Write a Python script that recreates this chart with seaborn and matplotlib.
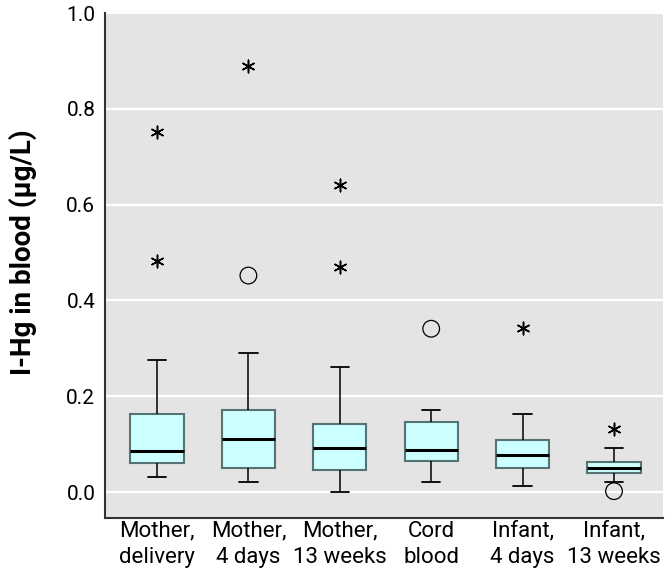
import numpy as np
import pandas as pd
import matplotlib
matplotlib.use('Agg')
import matplotlib.pyplot as plt
import seaborn as sns

# === Data ===
groups = ['Mother,\ndelivery', 'Mother,\n4 days', 'Mother,\n13 weeks',
          'Cord\nblood', 'Infant,\n4 days', 'Infant,\n13 weeks']
whisker_low = [0.032, 0.022, 0.001, 0.021, 0.013, 0.021]
q1 = [0.060, 0.050, 0.046, 0.065, 0.051, 0.039]
median = [0.086, 0.111, 0.092, 0.087, 0.078, 0.051]
q3 = [0.164, 0.172, 0.143, 0.147, 0.108, 0.062]
whisker_high = [0.275, 0.290, 0.262, 0.172, 0.163, 0.092]

# outliers (circles) and extremes (asterisks)
circle_groups = [groups[1], groups[3], groups[5]]
circle_values = [0.452, 0.341, 0.002]
star_groups = [groups[0], groups[0], groups[1], groups[2], groups[2], groups[4], groups[5]]
star_values = [0.752, 0.483, 0.890, 0.641, 0.470, 0.343, 0.131]

# five points per group -> quartiles match exactly, whiskers at min/max
rows = []
for i, g in enumerate(groups):
    for v in [whisker_low[i], q1[i], median[i], q3[i], whisker_high[i]]:
        rows.append({'group': g, 'value': v})
df = pd.DataFrame(rows)
df_circ = pd.DataFrame({'group': circle_groups, 'value': circle_values})
df_star = pd.DataFrame({'group': star_groups, 'value': star_values})

sns.set_style('white')
plt.rcParams['font.family'] = ['Roboto', 'DejaVu Sans']

fig = plt.figure(figsize=(6.67, 5.83), dpi=100)
ax = fig.add_axes([0.1574, 0.1115, 0.8366, 0.8662])
ax.set_facecolor('#E4E4E4')

sns.boxplot(data=df, x='group', y='value', order=groups, ax=ax,
            color='#CCFFFF', saturation=1, width=0.58, whis=np.inf,
            linewidth=1.2, capwidths=0.2,
            boxprops={'edgecolor': '#557373', 'linewidth': 1.5},
            medianprops={'color': 'black', 'linewidth': 2.2},
            whiskerprops={'color': 'black', 'linewidth': 1.1},
            capprops={'color': 'black', 'linewidth': 1.3})

sns.stripplot(data=df_circ, x='group', y='value', order=groups, ax=ax,
              jitter=False, marker='o', size=12, facecolor='none',
              edgecolor='black', linewidth=0.9, zorder=5)
sns.stripplot(data=df_star, x='group', y='value', order=groups, ax=ax,
              jitter=False, marker=(6, 2, 0), size=9, color='black',
              linewidth=1.1, zorder=5)

ax.set_xlim(-0.569, 5.536)
ax.set_ylim(-0.054, 1.0)
ax.set_yticks([0.0, 0.2, 0.4, 0.6, 0.8, 1.0])
ax.set_yticklabels(['0.0', '0.2', '0.4', '0.6', '0.8', '1.0'])
ax.set_xticks(range(len(groups)))
ax.set_xticklabels(groups, linespacing=1.3)
ax.yaxis.grid(True, color='white', linewidth=1.6)
ax.xaxis.grid(False)
ax.set_axisbelow(True)
ax.tick_params(axis='both', length=0, colors='black')
ax.tick_params(axis='y', labelsize=15, pad=7)
ax.tick_params(axis='x', labelsize=16, pad=2)

for s in ['top', 'right']:
    ax.spines[s].set_visible(False)
for s in ['left', 'bottom']:
    ax.spines[s].set_color('#333333')
    ax.spines[s].set_linewidth(1.5)

ax.set_xlabel('')
ax.set_ylabel('I-Hg in blood (\u03bcg/L)', fontsize=20, fontweight='bold',
              color='black')
ax.yaxis.set_label_coords(-0.122, 0.527)

plt.savefig('out.png', dpi=100)
